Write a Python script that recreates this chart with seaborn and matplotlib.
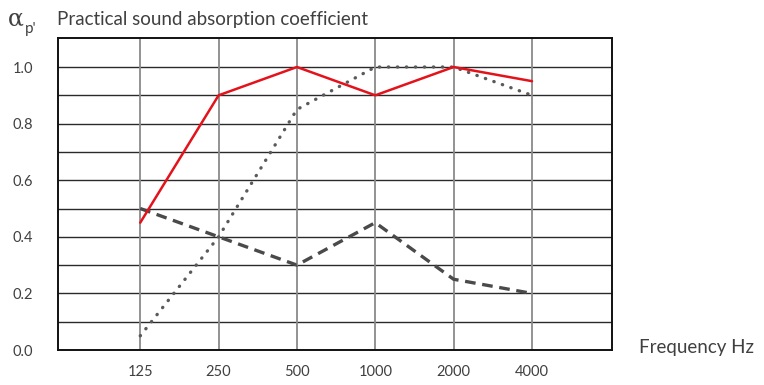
import pandas as pd
import matplotlib
matplotlib.use('Agg')
import matplotlib.pyplot as plt
import seaborn as sns

# Data
freqs = ['125', '250', '500', '1000', '2000', '4000']
red_vals = [0.45, 0.90, 1.00, 0.90, 1.00, 0.95]
dotted_vals = [0.05, 0.40, 0.85, 1.00, 1.00, 0.90]
dashed_vals = [0.50, 0.40, 0.30, 0.45, 0.25, 0.20]

sns.set_style('white')
plt.rcParams['font.family'] = ['Lato', 'DejaVu Sans']

TXT = '#404040'


def main():
    pos = list(range(len(freqs)))
    df = pd.DataFrame({
        'pos': pos * 3,
        'value': red_vals + dotted_vals + dashed_vals,
        'series': ['red'] * 6 + ['dotted'] * 6 + ['dashed'] * 6,
    })

    fig = plt.figure(figsize=(7.64, 3.85), dpi=100)
    ax = fig.add_axes([0.0759, 0.0909, 0.725, 0.810])

    # Grid
    for y in [i / 10 for i in range(1, 11)]:
        ax.axhline(y, color='#2a2a2a', lw=1.0, zorder=1)
    for p in pos:
        ax.axvline(p, color='#8a8a8a', lw=1.3, zorder=1)

    styles = {
        'red': dict(color='#e3121b', lw=1.8, ls='-'),
        'dotted': dict(color='#5a5a5a', lw=2.4, ls=(0, (0.1, 2.6)),
                       dash_capstyle='round'),
        'dashed': dict(color='#4a4a4a', lw=2.4, ls=(0, (3.2, 2.0))),
    }
    for name in ['dotted', 'dashed', 'red']:
        sub = df[df['series'] == name]
        st = styles[name]
        sns.lineplot(data=sub, x='pos', y='value', ax=ax,
                     color=st['color'], lw=st['lw'], zorder=3, legend=False)
        ln = ax.lines[-1]
        ln.set_linestyle(st['ls'])
        if 'dash_capstyle' in st:
            ln.set_dash_capstyle('round')

    ax.set_xlim(-1.05, 6.02)
    ax.set_ylim(0, 1.102)
    ax.set_xticks(pos)
    ax.set_xticklabels(freqs)
    ax.set_yticks([0, 0.2, 0.4, 0.6, 0.8, 1.0])
    ax.set_yticklabels(['0.0', '0.2', '0.4', '0.6', '0.8', '1.0'])
    ax.tick_params(axis='both', length=0, labelsize=10.5, colors=TXT)
    ax.tick_params(axis='x', pad=11)
    ax.tick_params(axis='y', pad=18)
    ax.set_xlabel('')
    ax.set_ylabel('')
    for s in ax.spines.values():
        s.set_color('#111111')
        s.set_linewidth(1.4)
        s.set_visible(True)

    # Title-like axis label at top left
    fig.text(0.010, 0.935, 'α', fontsize=17, color=TXT, va='baseline',
             family='DejaVu Serif')
    fig.text(0.033, 0.915, "p'", fontsize=11, color=TXT, va='baseline')
    fig.text(0.074, 0.935, 'Practical sound absorption coefficient',
             fontsize=13.5, color=TXT, va='baseline')
    fig.text(0.836, 0.098, 'Frequency Hz', fontsize=13.5, color=TXT,
             va='center')

    fig.savefig('out.png', dpi=100)
    plt.close(fig)


if __name__ == '__main__':
    main()
